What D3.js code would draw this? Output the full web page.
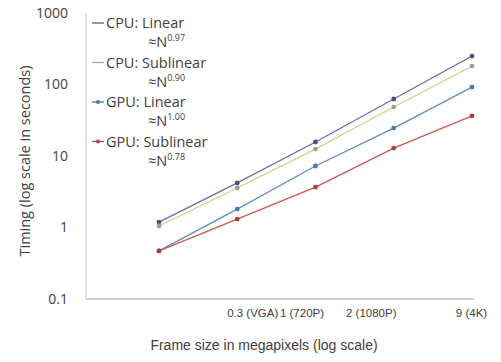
<!DOCTYPE html>
<html>
<head>
<meta charset="utf-8">
<script src="https://cdn.jsdelivr.net/npm/d3@7"></script>
<style>
  body { margin: 0; background: #fff; }
  text { fill: #404040; }
</style>
</head>
<body>
<svg id="chart" width="501" height="362"></svg>
<script>
(function(){
// frame sizes along the x axis (first run has no label)
const frameSizes = ['', '0.3 (VGA)', '1 (720P)', '2 (1080P)', '9 (4K)']
const seriesNames = ['CPU: Linear', 'CPU: Sublinear', 'GPU: Linear', 'GPU: Sublinear']
const exponents = ['0.97', '0.90', '1.00', '0.78']

// timing in seconds
const cpuLinear    = [1.19, 4.2, 15.7, 62.7, 250]
const cpuSublinear = [1.05, 3.57, 12.5, 48.4, 181]
const gpuLinear    = [0.47, 1.81, 7.25, 24.6, 92]
const gpuSublinear = [0.47, 1.31, 3.68, 12.9, 36.3]

const yTicks = [0.1, 1, 10, 100, 1000]

const lineColors   = ['#6b6bb0', '#cdd58a', '#5a8fc2', '#d4554f']
const markerColors = ['#4d4d7a', '#9c9c9c', '#4677a8', '#a8403c']
const legendColors = ['#606060', '#a8a8a8', '#4677a8', '#b8405a']

var svg = d3.select('#chart'),
    margin = {top: 13, right: 27, bottom: 63, left: 86},
    width = +svg.attr('width') - margin.left - margin.right,
    height = +svg.attr('height') - margin.top - margin.bottom,
    g = svg.append('g').attr('transform', 'translate(' + margin.left + ',' + margin.top + ')');

var series = [cpuLinear, cpuSublinear, gpuLinear, gpuSublinear].map(function(vals, i) {
    return {name: seriesNames[i], exp: exponents[i], values: vals.map(function(v, j) { return {i: j, t: v}; })};
});

var x = d3.scaleLinear().domain([0, frameSizes.length - 1]).range([73, 386]),
    y = d3.scaleLog().domain([0.1, 1000]).range([height, 0]);

// axis lines
g.append('line').attr('x1', 0).attr('x2', 0).attr('y1', 0).attr('y2', height)
    .attr('stroke', '#c8c8c8');
g.append('line').attr('x1', 0).attr('x2', width).attr('y1', height).attr('y2', height)
    .attr('stroke', '#c0c0c0').attr('stroke-width', 1.5);

// y axis labels
var yAxis = g.append('g')
    .call(d3.axisLeft(y).tickValues(yTicks).tickFormat(d3.format('~g')).tickSize(0).tickPadding(18));
yAxis.select('.domain').remove();
yAxis.selectAll('text')
    .style('font', '14px "Open Sans", sans-serif')
    .style('fill', '#404040');

// x axis labels, nudged like the original hand placed labels
const labelShift = [0, 15, -14, -23, -1]
var xAxis = g.append('g')
    .attr('transform', 'translate(0,' + height + ')')
    .call(d3.axisBottom(x).tickValues([1, 2, 3, 4]).tickFormat(function(d) { return frameSizes[d]; })
        .tickSize(0).tickPadding(10));
xAxis.select('.domain').remove();
xAxis.selectAll('text')
    .attr('dx', function(d) { return labelShift[d]; })
    .style('font', '11.5px "Liberation Sans", Arial, sans-serif')
    .style('fill', '#404040');

// titles
svg.append('text')
    .attr('transform', 'translate(30,161) rotate(-90)')
    .attr('text-anchor', 'middle')
    .style('font', '14.5px "Open Sans", sans-serif')
    .text('Timing (log scale in seconds)');

svg.append('text')
    .attr('x', 264).attr('y', 350)
    .attr('text-anchor', 'middle')
    .style('font', '14px "Liberation Sans", Arial, sans-serif')
    .text('Frame size in megapixels (log scale)');

// lines
var line = d3.line()
    .x(function(d) { return x(d.i); })
    .y(function(d) { return y(d.t); });

var run = g.selectAll('.run')
    .data(series)
    .enter().append('g')
    .attr('class', 'run');

run.append('path')
    .attr('d', function(d) { return line(d.values); })
    .attr('fill', 'none')
    .attr('stroke-width', 1.3)
    .attr('stroke', function(d, i) { return lineColors[i]; });

run.each(function(s, k) {
    d3.select(this).selectAll('circle')
        .data(s.values)
        .enter().append('circle')
        .attr('cx', function(d) { return x(d.i); })
        .attr('cy', function(d) { return y(d.t); })
        .attr('r', 2.4)
        .attr('fill', markerColors[k]);
});

// legend
var legend = svg.selectAll('.legend')
    .data(series)
    .enter().append('g')
    .attr('class', 'legend')
    .attr('transform', function(d, i) { return 'translate(92,' + (23 + i * 39.5) + ')'; });

legend.append('line')
    .attr('x1', 0).attr('x2', 12)
    .attr('stroke', function(d, i) { return legendColors[i]; })
    .attr('stroke-width', 1.3);

legend.filter(function(d, i) { return i >= 2; }).append('circle')
    .attr('cx', 6).attr('r', 2)
    .attr('fill', function(d, i) { return legendColors[i + 2]; });

legend.append('text')
    .attr('x', 14).attr('y', 5)
    .style('font', '14.5px "Open Sans", sans-serif')
    .text(function(d) { return d.name; });

var approx = legend.append('text')
    .attr('x', 56).attr('y', 24)
    .style('font', '14.5px "Open Sans", sans-serif');
approx.append('tspan').text('\u2248N');
approx.append('tspan')
    .attr('dy', -6)
    .style('font-size', '9px')
    .text(function(d) { return d.exp; });
})()
</script>
</body>
</html>
